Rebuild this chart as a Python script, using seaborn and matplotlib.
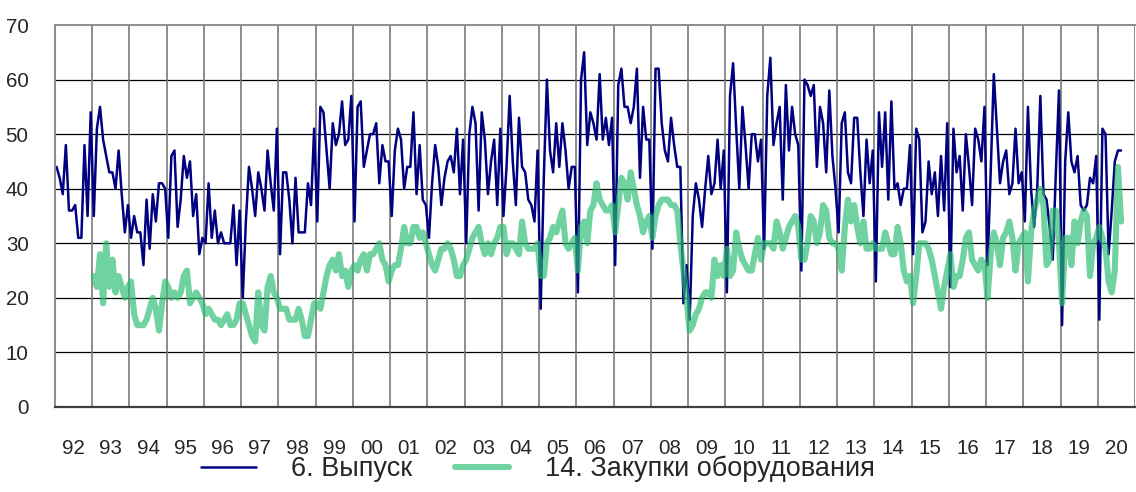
import numpy as np
import pandas as pd
import seaborn as sns
import matplotlib
matplotlib.use('Agg')
import matplotlib.pyplot as plt

sns.set_style('white')
plt.rcParams['font.family'] = ['Liberation Sans', 'DejaVu Sans']

# year labels under the axis (92 ... 20)
year_labels = ['92', '93', '94', '95', '96', '97', '98', '99', '00', '01', '02', '03', '04', '05',
               '06', '07', '08', '09', '10', '11', '12', '13', '14', '15', '16', '17', '18', '19', '20']

# 6. Выпуск, monthly from Jan 1992
vypusk = [
    44, 42, 39, 48, 36, 36, 37, 31, 31, 48, 35, 54,   # 1992
    35, 51, 55, 49, 46, 43, 43, 40, 47, 39, 32, 37,   # 1993
    31, 35, 32, 32, 26, 38, 29, 39, 34, 41, 41, 40,   # 1994
    31, 46, 47, 33, 38, 46, 42, 45, 35, 39, 28, 31,   # 1995
    30, 41, 31, 36, 30, 32, 30, 30, 30, 37, 26, 36,   # 1996
    20, 34, 44, 40, 35, 43, 40, 36, 47, 41, 36, 51,   # 1997
    28, 43, 43, 38, 30, 42, 32, 32, 32, 41, 37, 51,   # 1998
    34, 55, 54, 47, 40, 52, 48, 50, 56, 48, 49, 57,   # 1999
    34, 55, 56, 44, 47, 50, 50, 52, 41, 48, 45, 45,   # 2000
    35, 47, 51, 49, 40, 44, 44, 54, 39, 48, 38, 37,   # 2001
    31, 41, 48, 44, 37, 42, 45, 46, 43, 51, 39, 49,   # 2002
    30, 50, 55, 52, 36, 54, 49, 39, 45, 49, 37, 51,   # 2003
    35, 44, 57, 45, 37, 53, 44, 43, 38, 37, 34, 47,   # 2004
    18, 42, 60, 47, 43, 52, 44, 52, 47, 40, 44, 44,   # 2005
    21, 60, 65, 48, 54, 52, 49, 61, 49, 53, 48, 53,   # 2006
    26, 59, 62, 55, 55, 52, 55, 62, 42, 55, 49, 49,   # 2007
    29, 62, 62, 52, 47, 45, 53, 48, 44, 44, 19, 26,   # 2008
    16, 35, 41, 38, 33, 40, 46, 39, 41, 49, 40, 47,   # 2009
    21, 57, 63, 51, 40, 55, 48, 40, 50, 50, 45, 49,   # 2010
    29, 57, 64, 48, 52, 55, 38, 59, 47, 55, 50, 48,   # 2011
    25, 60, 59, 57, 59, 44, 55, 52, 43, 58, 46, 40,   # 2012
    32, 52, 54, 43, 41, 53, 53, 43, 35, 49, 41, 47,   # 2013
    23, 54, 44, 54, 38, 56, 40, 41, 37, 40, 40, 48,   # 2014
    28, 51, 49, 32, 34, 45, 39, 43, 35, 46, 36, 52,   # 2015
    22, 51, 43, 46, 36, 50, 44, 37, 51, 49, 45, 55,   # 2016
    26, 43, 61, 51, 41, 45, 47, 39, 41, 51, 41, 43,   # 2017
    34, 55, 40, 33, 40, 57, 39, 38, 33, 27, 43, 58,   # 2018
    15, 45, 54, 45, 43, 46, 37, 36, 37, 42, 41, 46,   # 2019
    16, 51, 50, 28, 36, 45, 47, 47,                   # 2020
]

# 14. Закупки оборудования, monthly from Jan 1993
zakupki = [
    24, 22, 28, 19, 30, 22, 27, 21, 24, 22, 20, 22,   # 1993
    23, 17, 15, 15, 15, 16, 18, 20, 18, 14, 19, 23,   # 1994
    22, 20, 21, 20, 21, 24, 25, 19, 20, 21, 20, 19,   # 1995
    17, 18, 17, 16, 16, 15, 16, 17, 15, 15, 16, 19,   # 1996
    19, 17, 15, 13, 12, 21, 15, 14, 22, 24, 21, 20,   # 1997
    18, 18, 18, 16, 16, 16, 18, 16, 13, 13, 16, 19,   # 1998
    19, 18, 21, 24, 26, 27, 25, 28, 24, 25, 22, 25,   # 1999
    26, 25, 27, 28, 25, 28, 28, 29, 30, 27, 26, 23,   # 2000
    25, 26, 26, 29, 33, 30, 30, 33, 33, 31, 32, 30,   # 2001
    28, 26, 25, 27, 29, 29, 30, 29, 27, 24, 24, 26,   # 2002
    27, 29, 31, 32, 33, 30, 28, 30, 28, 30, 31, 33,   # 2003
    33, 28, 30, 30, 29, 28, 34, 30, 29, 29, 29, 30,   # 2004
    24, 24, 30, 31, 33, 32, 34, 36, 30, 29, 30, 31,   # 2005
    25, 33, 34, 30, 36, 37, 41, 38, 37, 36, 36, 37,   # 2006
    32, 37, 42, 41, 38, 43, 40, 37, 35, 32, 34, 35,   # 2007
    31, 35, 37, 38, 38, 38, 37, 37, 36, 30, 25, 20,   # 2008
    14, 15, 17, 18, 20, 21, 21, 20, 27, 24, 26, 24,   # 2009
    29, 24, 25, 32, 29, 27, 26, 25, 25, 28, 31, 27,   # 2010
    30, 30, 30, 29, 34, 32, 29, 31, 33, 34, 35, 33,   # 2011
    27, 27, 30, 35, 34, 30, 32, 37, 36, 31, 30, 30,   # 2012
    29, 25, 33, 38, 34, 37, 33, 30, 34, 29, 29, 30,   # 2013
    29, 29, 29, 32, 30, 28, 28, 33, 30, 25, 23, 24,   # 2014
    19, 24, 30, 30, 30, 29, 27, 24, 21, 18, 22, 25,   # 2015
    28, 22, 24, 24, 27, 31, 32, 27, 26, 25, 27, 26,   # 2016
    20, 28, 32, 30, 26, 31, 32, 34, 31, 25, 30, 31,   # 2017
    32, 23, 32, 36, 38, 40, 37, 26, 27, 36, 36, 30,   # 2018
    19, 31, 31, 26, 34, 30, 34, 36, 35, 24, 30, 31,   # 2019
    33, 31, 29, 23, 21, 25, 44, 34,                   # 2020
]

# monthly points sit in the middle of each month
df_v = pd.DataFrame({'t': 1992 + (np.arange(len(vypusk)) + 0.5) / 12, 'value': vypusk})
df_z = pd.DataFrame({'t': 1993 + (np.arange(len(zakupki)) + 0.5) / 12, 'value': zakupki})

fig = plt.figure(figsize=(11.36, 4.92), dpi=100)
ax = fig.add_axes([55 / 1136, 85 / 492, 1080 / 1136, 382 / 492])

sns.lineplot(data=df_v, x='t', y='value', ax=ax, color='#000080', lw=1.8,
             estimator=None, label='6. Выпуск')
sns.lineplot(data=df_z, x='t', y='value', ax=ax, color=(45 / 255, 189 / 255, 115 / 255),
             alpha=0.68, lw=4.4, estimator=None, label='14. Закупки оборудования')
if ax.get_legend() is not None:
    ax.get_legend().remove()

ax.set_xlim(1992, 2021)
ax.set_ylim(0, 70)
ax.set_xlabel('')
ax.set_ylabel('')

# year boundaries: grid + ticks, labels centred in each year
ax.set_xticks(np.arange(1992, 2022))
ax.set_xticklabels([])
ax.set_xticks(np.arange(1992, 2021) + 0.5, minor=True)
ax.set_xticklabels(year_labels, minor=True, fontsize=14.8)
ax.tick_params(axis='x', which='major', direction='out', length=4, width=1, color='#404040')
ax.tick_params(axis='x', which='minor', length=0, pad=23)

ax.set_yticks(np.arange(0, 71, 10))
ax.tick_params(axis='y', direction='out', length=5, width=1, color='#404040', pad=14, labelsize=14.8)

ax.grid(False)
for yv in range(10, 70, 10):
    ax.axhline(yv, color='black', lw=0.9, zorder=0)
for xv in range(1993, 2022):
    ax.axvline(xv, color='#7a7a7a', lw=1.2, zorder=0)

for side in ['left', 'top']:
    ax.spines[side].set_color('#909090')
    ax.spines[side].set_linewidth(1.5)
ax.spines['bottom'].set_color('#404040')
ax.spines['bottom'].set_linewidth(1.6)
ax.spines['right'].set_visible(False)

handles, labels = ax.get_legend_handles_labels()
fig.legend(handles, labels, loc='center', bbox_to_anchor=(538 / 1136, 1 - 469 / 492), ncol=2,
           frameon=False, fontsize=19.5, handlelength=2.0, handletextpad=1.3, columnspacing=1.6)

fig.savefig('out.png', dpi=100)
